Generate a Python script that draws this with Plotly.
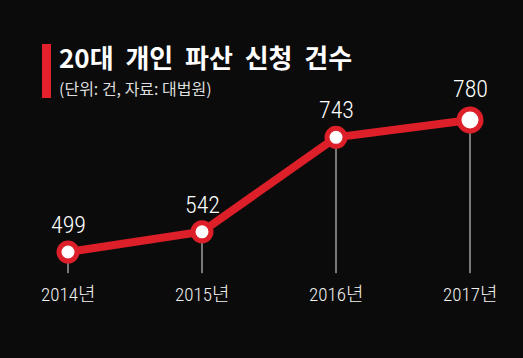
import plotly.graph_objects as go

years = [2014, 2015, 2016, 2017]
year_labels = ["2014년", "2015년", "2016년", "2017년"]
values = [499, 542, 743, 780]
marker_sizes = [18, 18, 18, 22]

title_words = ["20대", "개인", "파산", "신청", "건수"]
subtitle = "(단위: 건, 자료: 대법원)"

BG = "#0b0b0b"
RED = "#dc1f29"
base_val = 454
num_font = "Liberation Sans Narrow, Arial Narrow, Roboto Condensed, Liberation Sans, sans-serif"

fig = go.Figure()

# drop lines
for x, v in zip(years, values):
    fig.add_shape(type="line", x0=x, x1=x, y0=base_val, y1=v, xref="x", yref="y",
                  line=dict(color="#e6e6e6", width=1), layer="below")

fig.add_trace(go.Scatter(
    x=years, y=values, mode="lines",
    line=dict(color=RED, width=8),
    hoverinfo="skip", showlegend=False,
))
fig.add_trace(go.Scatter(
    x=years, y=values, mode="markers",
    marker=dict(size=marker_sizes, color="#ffffff", opacity=1, line=dict(color=RED, width=5)),
    hoverinfo="skip", showlegend=False,
))

for x, v, lab in zip(years, values, year_labels):
    fig.add_annotation(x=x, y=v, text=str(v), showarrow=False, yshift=27 if v != 780 else 31,
                       font=dict(family=num_font, size=24, color="white", weight=300))
    fig.add_annotation(x=x, y=base_val, text=lab, showarrow=False, yshift=-21,
                       font=dict(family=num_font + ", Noto Sans CJK KR", size=19, color="#f2f2f2", weight=300))

title = "\u00a0\u00a0".join(title_words)
fig.add_annotation(xref="paper", yref="paper", x=57/523, y=1-57/358, xanchor="left", yanchor="middle",
                   text="<b>" + title + "</b>", showarrow=False,
                   font=dict(family="Noto Sans CJK KR", size=26, color="white"))
fig.add_annotation(xref="paper", yref="paper", x=57/523, y=1-88/358, xanchor="left", yanchor="middle",
                   text=subtitle, showarrow=False,
                   font=dict(family="Noto Sans CJK KR", size=16, color="#dddddd"))
fig.add_shape(type="rect", xref="paper", yref="paper", x0=42/523, x1=51/523, y0=1-98/358, y1=1-44/358,
              fillcolor="#e3202b", line=dict(width=0))

fig.update_layout(
    width=523, height=358,
    margin=dict(l=0, r=0, t=0, b=0),
    paper_bgcolor=BG, plot_bgcolor=BG,
    xaxis=dict(range=[2013.4925, 2017.3955], visible=False, fixedrange=True),
    yaxis=dict(range=[273.4, 1035.4], visible=False, fixedrange=True),
)

fig.write_html("out.html", config={"displayModeBar": False, "staticPlot": True},
               post_script="document.body.style.margin='0';document.body.style.background='#0b0b0b';")
